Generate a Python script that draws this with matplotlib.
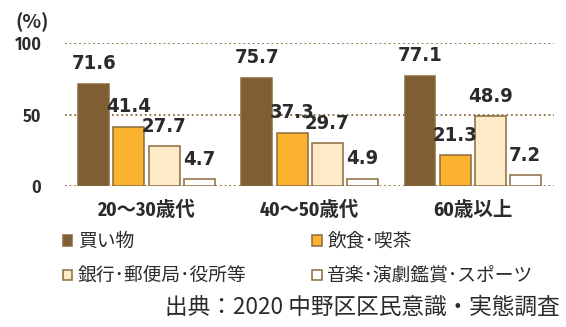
import numpy as np
import matplotlib.pyplot as plt
from matplotlib.patches import Patch
from matplotlib import font_manager as fm

groups = ['20～30歳代', '40～50歳代', '60歳以上']
series = ['買い物', '飲食･喫茶', '銀行･郵便局･役所等', '音楽･演劇鑑賞･スポーツ']
kaimono = [71.6, 75.7, 77.1]
inshoku = [41.4, 37.3, 21.3]
ginko = [27.7, 29.7, 48.9]
ongaku = [4.7, 4.9, 7.2]
values = [kaimono, inshoku, ginko, ongaku]
yticks = [0, 50, 100]

colors = ['#7f5e33', '#fbb22e', '#fdebc7', '#ffffff']
edge = '#8a6b3c'
txt = '#2b2b2b'

names = {f.name for f in fm.fontManager.ttflist}
narrow = 'DejaVu Sans'
for cand in ['Fira Sans Condensed', 'PT Sans Narrow', 'Roboto Condensed']:
    if cand in names:
        narrow = cand
        break
jp = 'Noto Sans CJK JP'
plt.rcParams['font.family'] = [jp, 'DejaVu Sans']

fig = plt.figure(figsize=(5.66, 3.27), dpi=100)
ax = fig.add_axes([0.1148, 0.432, 0.8642, 0.4356])

x = np.arange(len(groups))
w = 0.19
step = 0.215
handles = []
for i, (name, vals, c) in enumerate(zip(series, values, colors)):
    pos = x + (i - 1.5) * step
    ax.bar(pos, vals, w, color=c, edgecolor=edge, linewidth=1.1, zorder=3)
    handles.append(Patch(facecolor=c, edgecolor=edge, linewidth=1.1, label=name))
    for p, v in zip(pos, vals):
        ax.annotate(f'{v:.1f}', (p, v), xytext=(0, 14.4), textcoords='offset points',
                    ha='center', va='center', fontsize=14.5, fontweight='bold',
                    fontstretch='condensed', family='DejaVu Sans', color=txt, zorder=4)

ax.set_xlim(-0.5, 2.5)
ax.set_ylim(0, 100)
ax.set_yticks(yticks)
ax.set_yticklabels([str(t) for t in yticks], family=narrow, fontweight='semibold',
                   fontsize=13, color=txt)
ax.set_xticks(x)
ax.set_xticklabels(groups, family=[narrow, jp], fontweight='bold', fontsize=14, color=txt)
ax.tick_params(axis='y', length=0, pad=17)
ax.tick_params(axis='x', length=0, pad=11)
ax.yaxis.grid(True, linestyle=(0, (1, 1.6)), color=edge, linewidth=1.3, zorder=1)
ax.set_axisbelow(True)
for s in ax.spines.values():
    s.set_visible(False)

fig.text(32 / 566, 1 - 22 / 327, '(%)', ha='center', va='center', fontsize=14,
         fontweight='bold', color=txt)

# two columns: left = 買い物/銀行, right = 飲食/音楽
fig.legend(handles=[handles[0], handles[2], handles[1], handles[3]], ncol=2,
           loc='upper left', bbox_to_anchor=(63 / 566, 1 - 231 / 327), frameon=False,
           fontsize=13.5, handlelength=0.5, handleheight=0.5, handletextpad=0.3,
           columnspacing=3.5, labelspacing=0.72, borderpad=0, borderaxespad=0,
           labelcolor=txt)

fig.text(560 / 566, 1 - 307 / 327, '出典：2020 中野区区民意識・実態調査', ha='right',
         va='center', fontsize=16.3, color=txt)

fig.savefig('out.png', dpi=100)
